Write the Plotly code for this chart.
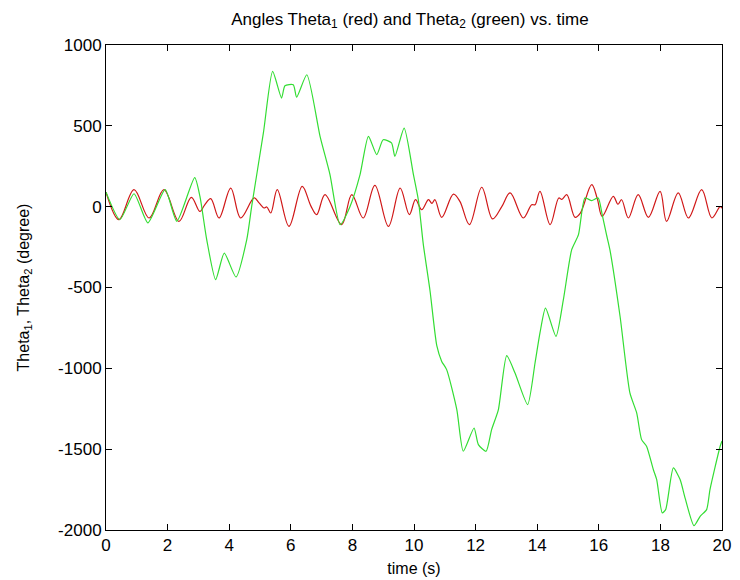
import plotly.graph_objects as go

# Theta2 (green) samples
t_green = [0.0, 0.45, 0.91, 1.36, 1.92, 2.3, 2.88, 3.05, 3.27, 3.56, 3.84, 4.22, 4.57, 4.73,
           5.11, 5.41, 5.7, 5.81, 6.08, 6.19, 6.52, 6.95, 7.27, 7.6, 7.92, 8.25, 8.52, 8.79,
           9.0, 9.27, 9.38, 9.68, 9.98, 10.14, 10.3, 10.52, 10.74, 10.9, 11.06, 11.39, 11.6,
           11.95, 12.09, 12.34, 12.52, 12.74, 13.01, 13.28, 13.69, 13.93, 14.09, 14.27, 14.61,
           14.85, 15.12, 15.34, 15.55, 15.77, 15.98, 16.11, 16.25, 16.36, 16.69, 17.01, 17.23,
           17.39, 17.55, 17.77, 17.88, 18.06, 18.17, 18.42, 18.64, 18.8, 19.09, 19.29, 19.5,
           19.61, 19.94, 20.0]
theta2 = [90, -80, 80, -100, 105, -90, 180, 64, -204, -451, -287, -435, -204, 2,
          456, 837, 672, 748, 754, 678, 816, 435, 200, -111, 0, 200, 435, 322,
          414, 394, 311, 486, 200, 43, -230, -520, -860, -957, -1008, -1255, -1513,
          -1369, -1472, -1513, -1379, -1255, -921, -1029, -1224, -967, -781, -627, -802,
          -575, -266, -173, 54, 37, 54, -49, -173, -266, -678, -1152, -1276,
          -1441, -1482, -1626, -1688, -1894, -1874, -1616, -1688, -1801, -1973, -1915, -1874,
          -1750, -1482, -1450]

# Theta1 (red) samples
t_red = [0.0, 0.42, 0.91, 1.40, 1.88, 2.37, 2.77, 3.05, 3.2, 3.40, 3.67, 4.05, 4.37, 4.81,
         4.97, 5.13, 5.22, 5.35, 5.56, 5.94, 6.37, 6.65, 6.84, 7.11, 7.65, 7.98, 8.35, 8.73,
         9.17, 9.55, 9.85, 10.05, 10.25, 10.47, 10.58, 10.68, 10.90, 11.28, 11.49, 11.80,
         12.20, 12.55, 12.85, 13.12, 13.55, 13.82, 13.93, 14.09, 14.42, 14.7, 14.8, 14.96,
         15.23, 15.4, 15.77, 15.95, 16.11, 16.47, 16.62, 16.74, 16.96, 17.28, 17.61, 17.99,
         18.2, 18.58, 18.91, 19.34, 19.67, 19.94, 20.0]
theta1 = [90, -80, 105, -70, 105, -91, 58, -30, 10, 50, -70, 115, -70, 54,
          23, -8, -2, -39, 105, -122, 126, 5, -49, 74, -111, 74, -70, 132,
          -122, 115, -49, 43, -19, 43, 20, 43, -66, 78, 33, -111,
          120, -76, 0, 85, -70, 12, 12, 95, -111, 54, 45, 74,
          -66, -40, 136, 50, -60, 64, 15, 43, -70, 74, -66, 95,
          -91, 85, -70, 105, -70, 0, -10]

x_ticks = [0, 2, 4, 6, 8, 10, 12, 14, 16, 18, 20]
y_ticks = [1000, 500, 0, -500, -1000, -1500, -2000]

FONT = "Liberation Sans, Arial, sans-serif"

fig = go.Figure()
fig.add_trace(go.Scatter(x=t_red, y=theta1, mode="lines",
                         line=dict(color="#d01818", width=1.2, shape="spline", smoothing=1)))
fig.add_trace(go.Scatter(x=t_green, y=theta2, mode="lines",
                         line=dict(color="#33dd33", width=1.2, shape="spline", smoothing=0.6)))

axis_common = dict(showline=True, linecolor="black", linewidth=1, mirror="ticks",
                   ticks="inside", ticklen=6, tickcolor="black", showgrid=False,
                   zeroline=False, automargin=False,
                   tickfont=dict(size=17, color="black", family=FONT))

fig.update_layout(
    width=740, height=580,
    margin=dict(l=106, r=18, t=45, b=50),
    paper_bgcolor="white", plot_bgcolor="white",
    showlegend=False,
    font=dict(family=FONT, color="black", size=16),
    title=dict(text="Angles Theta<sub>1</sub> (red) and Theta<sub>2</sub> (green) vs. time",
               x=0.554, xanchor="center", y=0.968, yanchor="middle",
               font=dict(size=17, family=FONT, color="black")),
    xaxis=dict(range=[0, 20], tickvals=x_ticks, ticktext=[str(v) for v in x_ticks],
               title=dict(text="time (s)", standoff=8, font=dict(size=16)), **axis_common),
    yaxis=dict(range=[-2000, 1000], tickvals=y_ticks, ticktext=[str(v) for v in y_ticks],
               title=dict(text="Theta<sub>1</sub>, Theta<sub>2</sub> (degree)", standoff=24,
                          font=dict(size=16)), **axis_common),
)

fig.write_html("out.html")
